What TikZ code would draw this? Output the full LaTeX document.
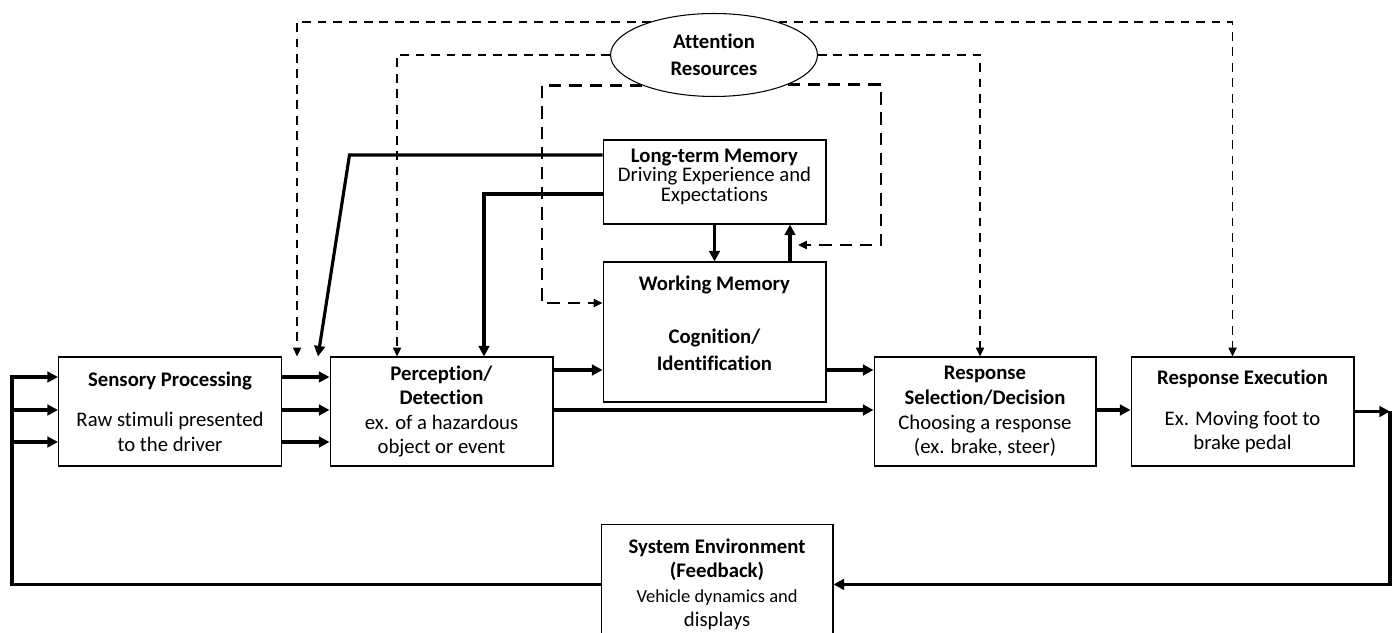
\documentclass[tikz,border=0pt]{standalone}
\usepackage{fontspec}
\setmainfont{Carlito}[Ligatures=NoCommon]
\usetikzlibrary{arrows.meta,shapes,positioning,backgrounds}

\begin{document}
\begin{tikzpicture}[x=0.02cm, y=0.02cm,
    box/.style={draw, line width=0.6pt, align=center, inner sep=2pt,
        minimum width=4.46cm, minimum height=2.18cm,
        font=\fontsize{11.8}{14}\selectfont},
    solidarrow/.style={line width=1.8pt, -{Triangle[length=6pt,width=6pt]}},
    attnarrow/.style={line width=1.1pt, dash pattern=on 5pt off 3.8pt,
        -{Triangle[length=5pt,width=4.5pt]}},
    loopdash/.style={line width=1.5pt, dash pattern=on 7pt off 4.5pt,
        -{Triangle[length=5pt,width=4.5pt]}}]
\useasboundingbox (0,0) rectangle (1398,632);

% Processing stages
\node[box] (sens) at (170,220.5) {\textbf{Sensory Processing}\\[9pt]Raw stimuli presented\\to the driver};
\node[box] (perc) at (441.5,220.5) {\textbf{Perception/}\\\textbf{Detection}\\ex. of a hazardous\\object or event};
\node[box, minimum height=2.8cm, text depth=10pt] (wm) at (714.5,300) {\textbf{Working Memory}\\[16pt]\textbf{Cognition/}\\[1pt]\textbf{Identification}};
\node[box, minimum height=1.68cm, text depth=8pt] (ltm) at (714.5,450) {\textbf{Long-term Memory}\\[-3pt]Driving Experience and\\[-3pt]Expectations};
\node[box, minimum width=4.44cm] (resp) at (985,220.5) {\textbf{Response}\\\textbf{Selection/Decision}\\Choosing a response\\(ex. brake, steer)};
\node[box] (exec) at (1242.5,220.5) {\textbf{Response Execution}\\[9pt]Ex. Moving foot to\\brake pedal};
\node[box, anchor=north, minimum width=4.64cm, minimum height=0pt, inner ysep=8pt] (env) at (717,108)
    {\textbf{System Environment}\\\textbf{(Feedback)}\\\fontsize{10.5}{12.5}\selectfont Vehicle dynamics and\\displays};
\node[draw, ellipse, fill=white, line width=0.6pt, inner sep=0pt, minimum width=4.14cm, minimum height=1.66cm,
    align=center, font=\fontsize{11.8}{14}\selectfont] (att) at (714,577) {\textbf{Attention}\\[1.2pt]\textbf{Resources}};

% Helper points
\coordinate (rowA) at (0,255);
\coordinate (rowB) at (0,222);
\coordinate (rowC) at (0,190);
\coordinate (rowW) at (0,262);
\coordinate (gapA) at ([xshift=0.3cm]sens.north east);
\coordinate (gapB) at ([xshift=0.72cm]sens.north east);
\coordinate (fbl) at (12,0);
\coordinate (fbr) at (1390,220.5);
\coordinate (loopL) at (542,329);
\coordinate (loopR) at (881,387);
\coordinate (loopEnd) at (798,387);

% Main flow
\draw[solidarrow] (sens.east|-rowA) -- (perc.west|-rowA);
\draw[solidarrow] (sens.east|-rowB) -- (perc.west|-rowB);
\draw[solidarrow] (sens.east|-rowC) -- (perc.west|-rowC);
\draw[solidarrow] (perc.east|-rowW) -- (wm.west|-rowW);
\draw[solidarrow] (perc.east|-rowB) -- (resp.west|-rowB);
\draw[solidarrow] (wm.east|-rowW) -- (resp.west|-rowW);
\draw[solidarrow] (resp.east|-rowB) -- (exec.west|-rowB);

% Memory links
\draw[solidarrow] ([yshift=0.54cm]ltm.west) -- ++(-253,0) -- (gapB);
\draw[solidarrow] ([yshift=-0.24cm]ltm.west) -| ([xshift=0.85cm]perc.north);
\draw[solidarrow] (ltm) -- (wm);
\draw[solidarrow] ([xshift=1.51cm]wm.north) -- ([xshift=1.51cm]ltm.south);

% Feedback loop
\draw[solidarrow] (exec.east) -- (fbr);
\draw[solidarrow] (fbr) |- (env.east);
\draw[solidarrow] (env.west) -| (fbl|-rowA) -- (sens.west|-rowA);
\draw[solidarrow] (fbl|-rowB) -- (sens.west|-rowB);
\draw[solidarrow] (fbl|-rowC) -- (sens.west|-rowC);

% Attention resources
\draw[attnarrow] (att.152.3) -| (gapA);
\draw[attnarrow] (att.27.7) -| ([xshift=-0.2cm]exec.north);
\draw[attnarrow] (att.west) -| ([xshift=-0.89cm]perc.north);
\draw[attnarrow] (att.east) -| ([xshift=-0.1cm]resp.north);
\draw[loopdash] (att.-157.2) -| (loopL) -- (wm.west|-loopL);
\draw[loopdash] (att.-22.8) -| (loopR) -- (loopEnd);
\end{tikzpicture}
\end{document}
